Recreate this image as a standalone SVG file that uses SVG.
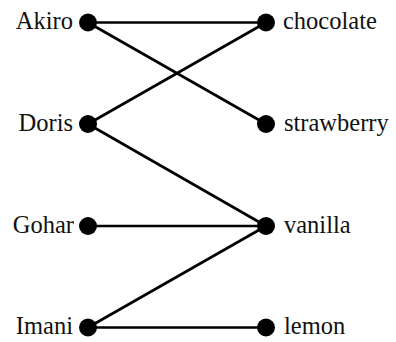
<svg xmlns="http://www.w3.org/2000/svg" width="396" height="342" viewBox="0 0 396 342">
<style>
.e{stroke:#000;stroke-width:2.6;fill:none}
.d{fill:#000}
text{font-family:'Liberation Serif','Times New Roman',serif;font-size:24.5px;fill:#111}
.l{text-anchor:end}
</style>
<rect width="396" height="342" fill="#fff"/>
<g id="connectors">
<line class="e" x1="88" y1="22.5" x2="266" y2="22.5"/>
<line class="e" x1="88" y1="22.5" x2="266" y2="124"/>
<line class="e" x1="88" y1="124" x2="266" y2="22.5"/>
<line class="e" x1="88" y1="124" x2="266" y2="226"/>
<line class="e" x1="88" y1="226" x2="266" y2="226"/>
<line class="e" x1="88" y1="327.5" x2="266" y2="226"/>
<line class="e" x1="88" y1="327.5" x2="266" y2="327.5"/>
</g>
<g id="akiro"><circle class="d" cx="88" cy="22.5" r="9"/><text class="l" x="73" y="29">Akiro</text></g>
<g id="doris"><circle class="d" cx="88" cy="124" r="9"/><text class="l" x="73" y="130.5">Doris</text></g>
<g id="gohar"><circle class="d" cx="88" cy="226" r="9"/><text class="l" x="74" y="232.5">Gohar</text></g>
<g id="imani"><circle class="d" cx="88" cy="327.5" r="9"/><text class="l" x="73" y="334">Imani</text></g>
<g id="chocolate"><circle class="d" cx="266" cy="22.5" r="9"/><text x="283" y="29">chocolate</text></g>
<g id="strawberry"><circle class="d" cx="266" cy="124" r="9"/><text x="284" y="130.5">strawberry</text></g>
<g id="vanilla"><circle class="d" cx="266" cy="226" r="9"/><text x="284" y="232.5">vanilla</text></g>
<g id="lemon"><circle class="d" cx="266" cy="327.5" r="9"/><text x="284" y="334">lemon</text></g>
</svg>
